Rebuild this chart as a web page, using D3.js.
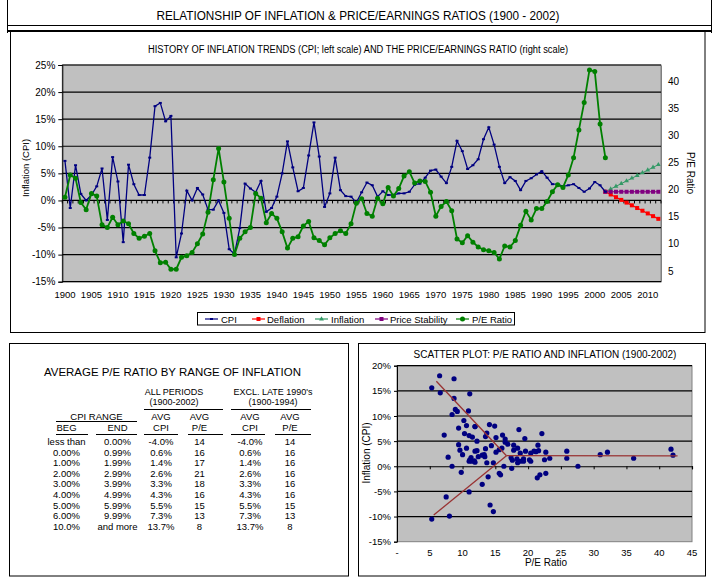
<!DOCTYPE html>
<html><head><meta charset="utf-8">
<script src="https://cdn.jsdelivr.net/npm/d3@7"></script>
<style>
body{margin:0;background:#fff}
svg{display:block}
text{font-family:Arial,"Liberation Sans",sans-serif;fill:#000}
</style>
</head><body>
<svg id="c" width="716" height="582"></svg>
<script>
// ---------------- DATA ----------------
const years = d3.range(1900, 2003);
const cpi = [7.3,-1.4,6.5,1.2,0.0,1.0,2.6,5.9,-3.6,8.0,3.5,-7.7,6.6,3.0,1.0,1.0,7.9,17.4,18.0,14.6,
  15.6,-10.5,-6.1,1.8,0.0,2.3,1.1,-1.7,-1.7,0.0,-2.3,-9.0,-9.9,-5.1,3.1,2.2,1.5,3.6,-2.1,-1.4,
  0.7,5.0,10.9,6.1,1.7,2.3,8.3,14.4,8.1,-1.2,1.3,7.9,1.9,0.8,0.7,-0.4,1.5,3.3,2.8,0.7,
  1.7,1.0,1.0,1.3,1.3,1.6,2.9,3.1,4.2,5.5,5.7,4.4,3.2,6.2,11.0,9.1,5.8,6.5,7.6,11.3,
  13.5,10.3,6.2,3.2,4.3,3.6,1.9,3.6,4.1,4.8,5.4,4.2,3.0,3.0,2.6,2.8,3.0,2.3,1.6,2.2,
  3.4,2.8,1.6];
const pe = [18.6,22.7,22.1,17.6,16.3,19.3,18.8,13.5,13.0,14.9,13.5,14.2,13.7,11.9,11.0,11.4,11.9,8.7,6.5,6.6,
  5.3,5.3,7.5,7.8,8.4,10.0,11.8,15.8,21.8,27.6,21.4,14.7,8.0,11.0,12.2,13.0,19.3,18.4,13.9,15.6,
  14.7,12.2,9.2,11.0,11.3,13.3,14.1,11.1,10.6,9.8,11.1,11.9,12.4,11.9,13.7,17.5,18.3,15.6,15.1,18.4,
  17.4,20.4,18.8,20.2,22.5,23.3,21.2,21.6,21.5,19.5,15.1,16.9,17.8,16.1,10.9,10.2,11.5,10.3,9.4,8.9,
  8.7,8.4,7.2,9.6,9.4,10.6,13.4,16.0,14.4,16.5,16.5,17.8,19.6,20.9,20.4,22.7,25.9,31.0,36.1,42.1,
  41.8,32.1,25.9];
const projYears = d3.range(2002, 2013);
const deflation = [1.6,1.1,0.6,0.1,-0.4,-0.9,-1.4,-1.9,-2.4,-2.9,-3.4];
const inflation = [1.6,2.1,2.6,3.1,3.6,4.1,4.6,5.1,5.6,6.1,6.6];
const priceStability = [1.6,1.6,1.6,1.6,1.6,1.6,1.6,1.6,1.6,1.6,1.6];
const axisYears = d3.range(1900, 2013);
const leftTicks = [-15,-10,-5,0,5,10,15,20,25];
const rightTicks = [5,10,15,20,25,30,35,40];
const yearLabels = d3.range(1900, 2011, 5);

const legendNames = ["CPI","Deflation","Inflation","Price Stability","P/E Ratio"];

// table
const cpiBeg = ["less than","0.00%","1.00%","2.00%","3.00%","4.00%","5.00%","6.00%","10.0%"];
const cpiEnd = ["0.00%","0.99%","1.99%","2.99%","3.99%","4.99%","5.99%","9.99%","and more"];
const allAvgCpi = ["-4.0%","0.6%","1.4%","2.6%","3.3%","4.3%","5.5%","7.3%","13.7%"];
const allAvgPe = [14,16,17,21,18,16,15,13,8];
const exAvgCpi = ["-4.0%","0.6%","1.4%","2.6%","3.3%","4.3%","5.5%","7.3%","13.7%"];
const exAvgPe = [14,16,16,16,16,16,15,13,8];

// scatter
const scatterXTicks = [0,5,10,15,20,25,30,35,40,45];
const scatterYTicks = [-15,-10,-5,0,5,10,15,20];
const trendLines = [
  [[6.0,16.9],[16.7,2.1]],
  [[5.6,-9.7],[16.7,2.1]],
  [[16.7,2.1],[42.8,2.05]]
];

// ---------------- DRAW ----------------
const svg = d3.select("#c");
const F = 'Arial,"Liberation Sans",sans-serif';

function txt(x, y, s, o = {}) {
  const t = svg.append("text").attr("x", x).attr("y", y).text(s)
    .attr("font-size", o.size || 10).attr("text-anchor", o.anchor || "middle");
  if (o.len) t.attr("textLength", o.len).attr("lengthAdjust", "spacingAndGlyphs");
  if (o.rot) t.attr("transform", `rotate(${o.rot},${x},${y})`);
  return t;
}
function line(x1, y1, x2, y2, w = 1, c = "#000") {
  svg.append("line").attr("x1", x1).attr("y1", y1).attr("x2", x2).attr("y2", y2)
    .attr("stroke", c).attr("stroke-width", w);
}

// frames
line(7.5, 0, 7.5, 33); line(711.5, 0, 711.5, 33);
line(7, 25.5, 712, 25.5);
line(7, 31, 712, 31, 2);
svg.append("rect").attr("x", 10.5).attr("y", 31).attr("width", 694.5).attr("height", 301.5)
  .attr("fill", "none").attr("stroke", "#000");
svg.append("rect").attr("x", 9.5).attr("y", 343.5).attr("width", 339).attr("height", 232.5)
  .attr("fill", "none").attr("stroke", "#000");
svg.append("rect").attr("x", 358.5).attr("y", 343.5).attr("width", 347).attr("height", 232.5)
  .attr("fill", "none").attr("stroke", "#000");

txt(358, 20, "RELATIONSHIP OF INFLATION & PRICE/EARNINGS RATIOS (1900 - 2002)", {size: 13, len: 403});
txt(358, 53, "HISTORY OF INFLATION TRENDS (CPI; left scale) AND THE PRICE/EARNINGS RATIO (right scale)", {size: 10, len: 420});

// ----- top chart -----
const L = 62.3, R = 661, T = 65, B = 281.7;
const x = d3.scaleBand().domain(axisYears).range([L, R]).padding(0);
const xc = d => x(d) + x.bandwidth() / 2;
const yL = d3.scaleLinear().domain([-15, 25]).range([B, T]);
const yR = d3.scaleLinear().domain([3, 43]).range([B, T]);

svg.append("rect").attr("x", L).attr("y", T).attr("width", R - L).attr("height", B - T)
  .attr("fill", "#c0c0c0").attr("stroke", "#808080");
leftTicks.forEach(v => { if (v !== 0) line(L, yL(v), R, yL(v), 1.2); });

// left axis
const gL = svg.append("g").attr("transform", `translate(${L},0)`)
  .call(d3.axisLeft(yL).tickValues(leftTicks).tickFormat(d => d + "%").tickSize(4).tickPadding(3));
gL.selectAll("text").attr("font-size", 10).attr("font-family", F);
// right axis
const gR = svg.append("g").attr("transform", `translate(${R},0)`)
  .call(d3.axisRight(yR).tickValues(rightTicks).tickSize(0).tickPadding(7));
gR.select(".domain").attr("stroke", "#808080");
gR.selectAll("text").attr("font-size", 10).attr("font-family", F);
// category axis at 0%
const gX = svg.append("g").attr("transform", `translate(0,${yL(0)})`);
gX.append("line").attr("x1", L).attr("x2", R).attr("stroke", "#000").attr("stroke-width", 1.2);
gX.selectAll("line.t").data(axisYears.concat([2013])).join("line").attr("class", "t")
  .attr("x1", d => d === 2013 ? R : x(d)).attr("x2", d => d === 2013 ? R : x(d))
  .attr("y1", 0).attr("y2", 3).attr("stroke", "#000");
svg.selectAll("text.yr").data(yearLabels).join("text").attr("class", "yr")
  .attr("x", d => xc(d)).attr("y", 298).attr("text-anchor", "middle")
  .attr("font-size", 9.5).text(d => d);

txt(29, 168, "Inflation (CPI)", {size: 9.5, rot: -90});
txt(687, 173, "P/E Ratio", {size: 10, rot: 90});

// series
const lineL = d3.line().x(d => xc(d[0])).y(d => yL(d[1]));
const lineR = d3.line().x(d => xc(d[0])).y(d => yR(d[1]));
const cpiPts = years.map((y, i) => [y, cpi[i]]);
const pePts = years.map((y, i) => [y, pe[i]]);
const infPts = projYears.map((y, i) => [y, inflation[i]]);
const defPts = projYears.map((y, i) => [y, deflation[i]]);
const psPts = projYears.map((y, i) => [y, priceStability[i]]);

const colors = {cpi: "#000080", def: "#ff0000", inf: "#339966", ps: "#800080", pe: "#008000"};

svg.append("path").datum(infPts).attr("d", lineL).attr("fill", "none").attr("stroke", colors.inf).attr("stroke-width", 1);
svg.selectAll("path.inf").data(infPts).join("path").attr("class", "inf")
  .attr("d", d3.symbol(d3.symbolTriangle, 10)).attr("transform", d => `translate(${xc(d[0])},${yL(d[1])})`)
  .attr("fill", colors.inf);
svg.append("path").datum(defPts).attr("d", lineL).attr("fill", "none").attr("stroke", colors.def).attr("stroke-width", 1.2);
svg.selectAll("rect.def").data(defPts).join("rect").attr("class", "def")
  .attr("x", d => xc(d[0]) - 2).attr("y", d => yL(d[1]) - 2).attr("width", 4).attr("height", 4).attr("fill", colors.def);
svg.append("path").datum(psPts).attr("d", lineL).attr("fill", "none").attr("stroke", colors.ps).attr("stroke-width", 1.2);
svg.selectAll("rect.ps").data(psPts).join("rect").attr("class", "ps")
  .attr("x", d => xc(d[0]) - 2).attr("y", d => yL(d[1]) - 2).attr("width", 4).attr("height", 4).attr("fill", colors.ps);

svg.append("path").datum(cpiPts).attr("d", lineL).attr("fill", "none").attr("stroke", colors.cpi).attr("stroke-width", 1.3);
svg.selectAll("rect.cpi").data(cpiPts).join("rect").attr("class", "cpi")
  .attr("x", d => xc(d[0]) - 1.5).attr("y", d => yL(d[1]) - 1).attr("width", 3).attr("height", 2).attr("fill", colors.cpi);

svg.append("path").datum(pePts).attr("d", lineR).attr("fill", "none").attr("stroke", colors.pe).attr("stroke-width", 1.8);
svg.selectAll("circle.pe").data(pePts).join("circle").attr("class", "pe")
  .attr("cx", d => xc(d[0])).attr("cy", d => yR(d[1])).attr("r", 2.5).attr("fill", colors.pe);

// legend
svg.append("rect").attr("x", 197.5).attr("y", 312.5).attr("width", 317).attr("height", 12.5)
  .attr("fill", "#fff").attr("stroke", "#000");
const legX = [[205, 221], [252, 267], [315, 331], [375, 390], [456, 472]];
const legC = [colors.cpi, colors.def, colors.inf, colors.ps, colors.pe];
legendNames.forEach((n, i) => {
  const [lx, tx] = legX[i], ly = 319;
  line(lx, ly, lx + 13, ly, 1.2, legC[i]);
  const mx = lx + 6.5;
  if (i === 0) svg.append("rect").attr("x", mx - 1.5).attr("y", ly - 1).attr("width", 3).attr("height", 2).attr("fill", legC[i]);
  else if (i === 2) svg.append("path").attr("d", d3.symbol(d3.symbolTriangle, 10)).attr("transform", `translate(${mx},${ly})`).attr("fill", legC[i]);
  else if (i === 4) svg.append("circle").attr("cx", mx).attr("cy", ly).attr("r", 2.5).attr("fill", legC[i]);
  else svg.append("rect").attr("x", mx - 2).attr("y", ly - 2).attr("width", 4).attr("height", 4).attr("fill", legC[i]);
  txt(tx, ly + 3.5, n, {size: 9.5, anchor: "start"});
});

// ----- table -----
txt(172.5, 376, "AVERAGE P/E RATIO BY RANGE OF INFLATION", {size: 10.5, len: 257});
txt(174, 394.5, "ALL PERIODS", {size: 9});
txt(174, 405, "(1900-2002)", {size: 9});
txt(273, 394.5, "EXCL. LATE 1990's", {size: 9});
txt(273, 405, "(1900-1994)", {size: 9});
line(144, 409.5, 223, 409.5); line(231, 409.5, 311, 409.5);
txt(96.5, 420, "CPI RANGE", {size: 9.5});
line(56, 421.5, 137, 421.5);
const colCx = [66.5, 117.5, 161, 199.5, 250, 290];
const headA = ["", "", "AVG", "AVG", "AVG", "AVG"];
const headB = ["BEG", "END", "CPI", "P/E", "CPI", "P/E"];
const colL = [[56, 88], [96, 137], [144, 178], [188, 223], [231, 265], [275, 311]];
headA.forEach((h, i) => { if (h) txt(colCx[i], 420, h, {size: 9.5}); });
headB.forEach((h, i) => { txt(colCx[i], 431, h, {size: 9.5}); line(colL[i][0], 434.5, colL[i][1], 434.5); });
const tableCols = [cpiBeg, cpiEnd, allAvgCpi, allAvgPe, exAvgCpi, exAvgPe];
tableCols.forEach((col, c) => {
  col.forEach((v, r) => txt(colCx[c], 445 + r * 10.6, v, {size: 9.5}));
});

// ----- scatter -----
const sL = 397, sR = 692, sT = 365.7, sB = 541.7;
const sx = d3.scaleLinear().domain([0, 45]).range([sL, sR]);
const sy = d3.scaleLinear().domain([-15, 20]).range([sB, sT]);
txt(545, 358, "SCATTER PLOT: P/E RATIO AND INFLATION (1900-2002)", {size: 10});
svg.append("rect").attr("x", sL).attr("y", sT).attr("width", sR - sL).attr("height", sB - sT)
  .attr("fill", "#c0c0c0").attr("stroke", "#808080");
scatterYTicks.forEach(v => { if (v !== 0 && v !== -15) line(sL, sy(v), sR, sy(v), 1.2); });
const sgL = svg.append("g").attr("transform", `translate(${sL},0)`)
  .call(d3.axisLeft(sy).tickValues(scatterYTicks).tickFormat(d => d + "%").tickSize(3).tickPadding(3));
sgL.selectAll("text").attr("font-size", 9.5).attr("font-family", F);
const sg0 = svg.append("g").attr("transform", `translate(0,${sy(0)})`)
  .call(d3.axisBottom(sx).tickValues(scatterXTicks).tickSize(3).tickFormat(""));
sg0.select(".domain").attr("stroke-width", 1.2);
svg.selectAll("text.sx").data(scatterXTicks).join("text").attr("class", "sx")
  .attr("x", d => sx(d)).attr("y", 556).attr("text-anchor", "middle").attr("font-size", 9.5)
  .text(d => d === 0 ? "-" : d);
txt(546, 566, "P/E Ratio", {size: 10});
txt(370, 453, "Inflation (CPI)", {size: 10, rot: -90});

svg.selectAll("circle.sc").data(years.map((y, i) => [pe[i], cpi[i]])).join("circle").attr("class", "sc")
  .attr("cx", d => sx(d[0])).attr("cy", d => sy(d[1])).attr("r", 2.6).attr("fill", "#000080");
const tl = d3.line().x(d => sx(d[0])).y(d => sy(d[1]));
trendLines.forEach(seg => svg.append("path").datum(seg).attr("d", tl)
  .attr("stroke", "#993333").attr("stroke-width", 1.3).attr("fill", "none"));
</script>
</body></html>
